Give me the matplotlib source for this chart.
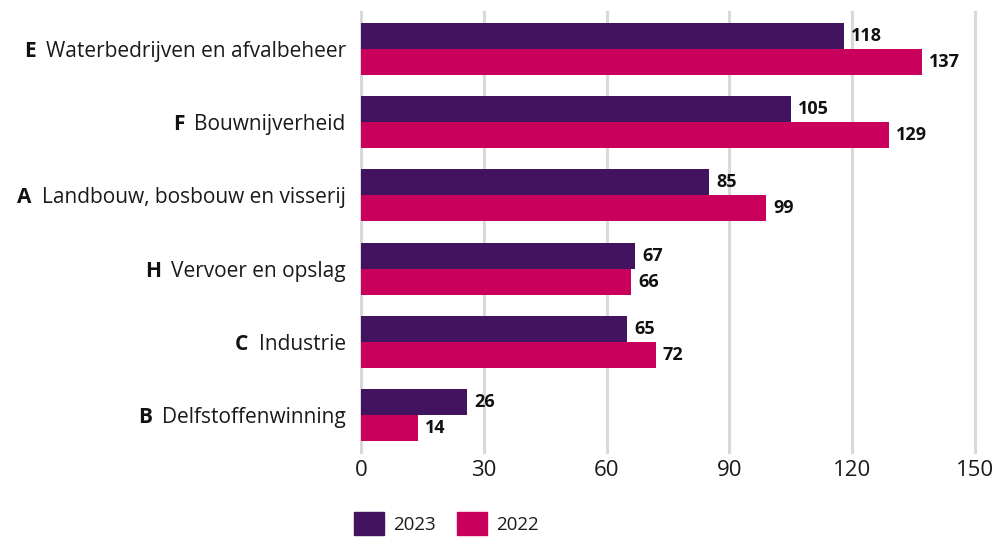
import numpy as np
import matplotlib.pyplot as plt
from matplotlib.patches import Patch

# data (top to bottom)
letters = ["E", "F", "A", "H", "C", "B"]
sectors = ["Waterbedrijven en afvalbeheer", "Bouwnijverheid",
           "Landbouw, bosbouw en visserij", "Vervoer en opslag",
           "Industrie", "Delfstoffenwinning"]
values_2023 = [118, 105, 85, 67, 65, 26]
values_2022 = [137, 129, 99, 66, 72, 14]

purple = "#42145f"
pink = "#ca005d"

plt.rcParams['font.family'] = ['Open Sans', 'DejaVu Sans']

fig = plt.figure(figsize=(9.97, 5.37), dpi=100)
ax = fig.add_axes([361 / 997, 1 - 452 / 537, 614 / 997, 440 / 537])

y = np.arange(len(sectors))
h = 0.355
ax.barh(y - h / 2, values_2023, height=h, color=purple, zorder=3)
ax.barh(y + h / 2, values_2022, height=h, color=pink, zorder=3)

for yi, v in zip(y, values_2023):
    ax.annotate(str(v), (v, yi - h / 2), xytext=(5, 0), textcoords="offset points",
                va="center", ha="left", fontsize=13, fontweight="bold", color="#111111")
for yi, v in zip(y, values_2022):
    ax.annotate(str(v), (v, yi + h / 2), xytext=(5, 0), textcoords="offset points",
                va="center", ha="left", fontsize=13, fontweight="bold", color="#111111")

ax.set_xlim(0, 150)
ax.set_ylim(len(sectors) - 0.5, -0.5)
ax.set_xticks([0, 30, 60, 90, 120, 150])
ax.set_yticks(y)
ax.set_yticklabels(sectors)
ax.tick_params(axis="both", length=0, colors="#1a1a1a")
ax.tick_params(axis="y", pad=11, labelsize=15)
ax.tick_params(axis="x", pad=6, labelsize=16)
ax.grid(axis="x", color="#d9d9d9", linewidth=2.2, zorder=0)
for gl in ax.get_xgridlines():
    gl.set_clip_on(False)
ax.set_axisbelow(True)
for s in ax.spines.values():
    s.set_visible(False)

# bold letter codes to the left of the sector names
fig.canvas.draw()
renderer = fig.canvas.get_renderer()
inv = fig.transFigure.inverted()
for lab, letter in zip(ax.get_yticklabels(), letters):
    bb = lab.get_window_extent(renderer)
    x0, yc = inv.transform((bb.x0 - 10, (bb.y0 + bb.y1) / 2))
    fig.text(x0, yc, letter, ha="right", va="center", fontsize=15,
             fontweight="bold", color="#111111")

handles = [Patch(color=purple, label="2023"), Patch(color=pink, label="2022")]
fig.legend(handles=handles, loc="lower left", bbox_to_anchor=(337 / 997, -0.028),
           ncol=2, frameon=False, fontsize=13.5, handlelength=1.6, handleheight=1.5,
           columnspacing=1.1, handletextpad=0.5, labelcolor="#1a1a1a")

fig.savefig("out.png", dpi=100)
